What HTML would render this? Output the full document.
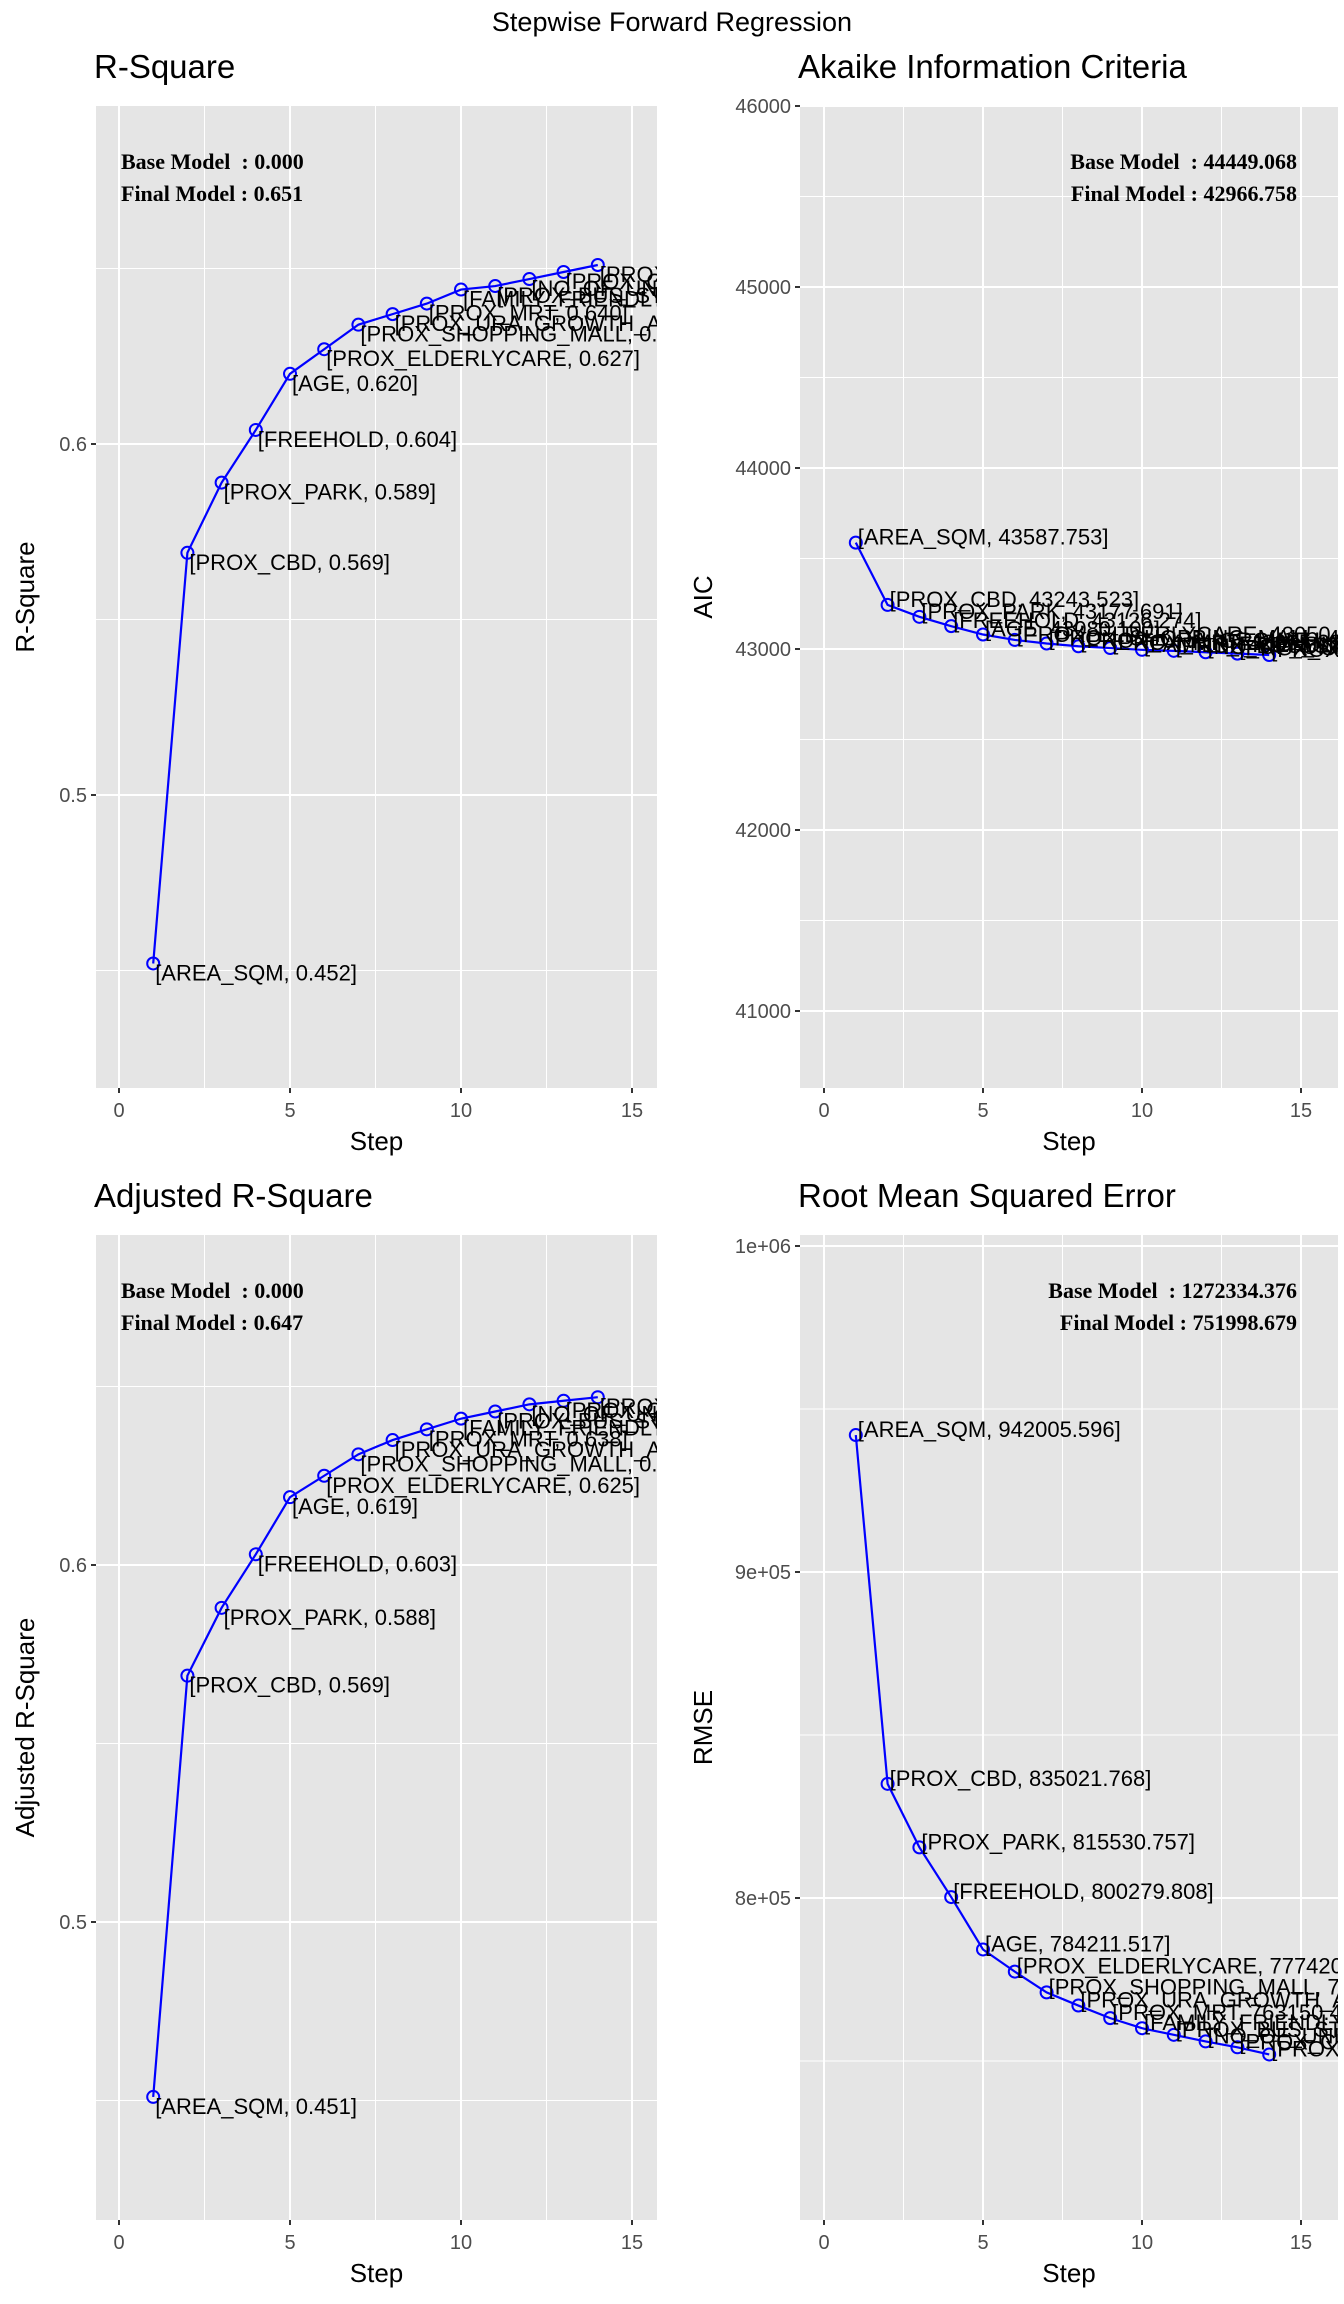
<!DOCTYPE html>
<html><head><meta charset="utf-8"><style>
body{margin:0;background:#fff;}
svg{display:block;font-family:"Liberation Sans",sans-serif;}
</style></head><body>
<svg id="chart" width="1344" height="2304" viewBox="0 0 1344 2304" xmlns="http://www.w3.org/2000/svg">
<text x="672" y="31" font-size="27" text-anchor="middle">Stepwise Forward Regression</text>
</svg>
<script>
const steps = [1,2,3,4,5,6,7,8,9,10,11,12,13,14];
const varNames = ["AREA_SQM","PROX_CBD","PROX_PARK","FREEHOLD","AGE","PROX_ELDERLYCARE","PROX_SHOPPING_MALL","PROX_URA_GROWTH_AREA","PROX_MRT","FAMILY_FRIENDLY","PROX_BUS_STOP","NO_OF_UNIT","PROX_CHILDCARE","PROX_PRIMARY_SCH"];
const rsqValues = [0.452,0.569,0.589,0.604,0.620,0.627,0.634,0.637,0.640,0.644,0.645,0.647,0.649,0.651];
const adjRsqValues = [0.451,0.569,0.588,0.603,0.619,0.625,0.631,0.635,0.638,0.641,0.643,0.645,0.646,0.647];
const aicValues = [43587.753,43243.523,43177.691,43126.274,43080.1,43050.2,43030.4,43015.2,43005.3,42995.6,42989.8,42982.1,42974.5,42966.758];
const rmseValues = [942005.596,835021.768,815530.757,800279.808,784211.517,777420.1,771050.3,767010.2,763150.4,760050.6,758020.1,756010.2,754200.3,751998.679];
const xTicks = [0,5,10,15];
const rsqTicks = [0.5,0.6];
const aicTicks = [41000,42000,43000,44000,45000,46000];
const rmseTicks = [800000,900000,1000000];
const rmseTickLabels = ["8e+05","9e+05","1e+06"];

const NS="http://www.w3.org/2000/svg";
const svg=document.getElementById('chart');
function mk(tag,attrs,parent){const e=document.createElementNS(NS,tag);for(const k in attrs)e.setAttribute(k,attrs[k]);(parent||svg).appendChild(e);return e;}

function panel(o){
  const g=mk('g',{});
  
  
  const L=o.L,R=o.R,T=o.T,B=o.B;
  const xs=v=>o.x0+(v-0)*(o.x15-o.x0)/15;
  const ys=v=>o.ya+(v-o.va)*(o.yb-o.ya)/(o.vb-o.va);
  const yinv=p=>o.va+(p-o.ya)*(o.vb-o.va)/(o.yb-o.ya);
  const t=mk('text',{x:L-2,y:T-28,'font-size':33},g);t.textContent=o.title;
  
  
  const bg=mk('rect',{x:L,y:T,width:R-L,height:B-T,fill:'#e5e5e5'},g);
  
  
  [2.5,7.5,12.5].forEach(v=>{const l=mk('line',{x1:xs(v),x2:xs(v),y1:T,y2:B,stroke:'#fff','stroke-width':1},g);});
  const step=o.ticks[1]-o.ticks[0];
  const vmin=Math.min(yinv(T),yinv(B)),vmax=Math.max(yinv(T),yinv(B));
  for(let v=o.ticks[0]-step*10+step/2;v<vmax;v+=step){if(v<vmin)continue;const l=mk('line',{x1:L,x2:R,y1:ys(v),y2:ys(v),stroke:'#fff','stroke-width':1},g);}
  xTicks.forEach(v=>{
    const l=mk('line',{x1:xs(v),x2:xs(v),y1:T,y2:B,stroke:'#fff','stroke-width':2},g);
    
    const tk=mk('line',{x1:xs(v),x2:xs(v),y1:B,y2:B+5,stroke:'#333','stroke-width':2},g);
    
    const tl=mk('text',{x:xs(v),y:B+29,'font-size':20,fill:'#4d4d4d','text-anchor':'middle'},g);tl.textContent=v;
    
  });
  o.ticks.forEach((v,i)=>{
    const y=ys(v);
    const l=mk('line',{x1:L,x2:R,y1:y,y2:y,stroke:'#fff','stroke-width':2},g);
    
    const tk=mk('line',{x1:L-5,x2:L,y1:y,y2:y,stroke:'#333','stroke-width':2},g);
    
    const tl=mk('text',{x:L-9,y:y+7,'font-size':20,fill:'#4d4d4d','text-anchor':'end'},g);tl.textContent=o.tickLabels[i];
    
  });
  const xt=mk('text',{x:(L+R)/2,y:B+62,'font-size':26,'text-anchor':'middle'},g);xt.textContent='Step';
  
  const cy=(T+B)/2;
  const yt=mk('text',{x:o.ytx,y:cy,'font-size':26,'text-anchor':'middle',transform:`rotate(-90 ${o.ytx} ${cy})`},g);yt.textContent=o.ytitle;
  
  const cid='clip-'+o.name;
  const cp=mk('clipPath',{id:cid},g);mk('rect',{x:L,y:T,width:R-L,height:B-T},cp);
  const pg=mk('g',{'clip-path':`url(#${cid})`},g);
  const pts=steps.map((s,i)=>[xs(s),ys(o.vals[i])]);
  const line=mk('polyline',{points:pts.map(p=>p.join(',')).join(' '),fill:'none',stroke:'#0000ff','stroke-width':2.2},pg);
  
  pts.forEach((p,i)=>{
    const c=mk('circle',{cx:p[0],cy:p[1],r:6,fill:'none',stroke:'#0000ff','stroke-width':2},pg);
    
  });
  pts.forEach((p,i)=>{
    const lb=mk('text',{x:p[0]+2,y:p[1]+o.lblOff,'font-size':22},pg);
    lb.textContent='['+varNames[i]+', '+o.fmt(o.vals[i])+']';
    
  });
  const a1=mk('text',{x:o.annX,y:T+63,'font-size':22,'font-weight':'bold','font-family':'Liberation Serif, serif','text-anchor':o.annAnchor,'xml:space':'preserve',style:'white-space:pre'},g);a1.textContent=o.ann[0];
  
  const a2=mk('text',{x:o.annX,y:T+95,'font-size':22,'font-weight':'bold','font-family':'Liberation Serif, serif','text-anchor':o.annAnchor,'xml:space':'preserve',style:'white-space:pre'},g);a2.textContent=o.ann[1];
  
}
const f3=v=>v.toFixed(3);
panel({name:'r-square-panel',title:'R-Square',ytitle:'R-Square',L:96,R:657,T:106,B:1088,x0:119,x15:632,ya:444,va:0.6,yb:795,vb:0.5,ticks:rsqTicks,tickLabels:rsqTicks.map(v=>v.toFixed(1)),vals:rsqValues,fmt:f3,lblOff:17,ytx:34,annX:121,annAnchor:'start',ann:['Base Model  : 0.000','Final Model : 0.651']});
panel({name:'aic-panel',title:'Akaike Information Criteria',ytitle:'AIC',L:800,R:1338,T:106,B:1088,x0:824,x15:1301,ya:106,va:46000,yb:1011,vb:41000,ticks:aicTicks,tickLabels:aicTicks.map(String),vals:aicValues,fmt:f3,lblOff:2,ytx:712,annX:1297,annAnchor:'end',ann:['Base Model  : 44449.068','Final Model : 42966.758']});
panel({name:'adj-r-square-panel',title:'Adjusted R-Square',ytitle:'Adjusted R-Square',L:96,R:657,T:1235,B:2220,x0:119,x15:632,ya:1565,va:0.6,yb:1922,vb:0.5,ticks:rsqTicks,tickLabels:rsqTicks.map(v=>v.toFixed(1)),vals:adjRsqValues,fmt:f3,lblOff:17,ytx:34,annX:121,annAnchor:'start',ann:['Base Model  : 0.000','Final Model : 0.647']});
panel({name:'rmse-panel',title:'Root Mean Squared Error',ytitle:'RMSE',L:800,R:1338,T:1235,B:2220,x0:824,x15:1301,ya:1898,va:800000,yb:1572,vb:900000,ticks:rmseTicks,tickLabels:rmseTickLabels,vals:rmseValues,fmt:f3,lblOff:2,ytx:712,annX:1297,annAnchor:'end',ann:['Base Model  : 1272334.376','Final Model : 751998.679']});
</script>
</body></html>
